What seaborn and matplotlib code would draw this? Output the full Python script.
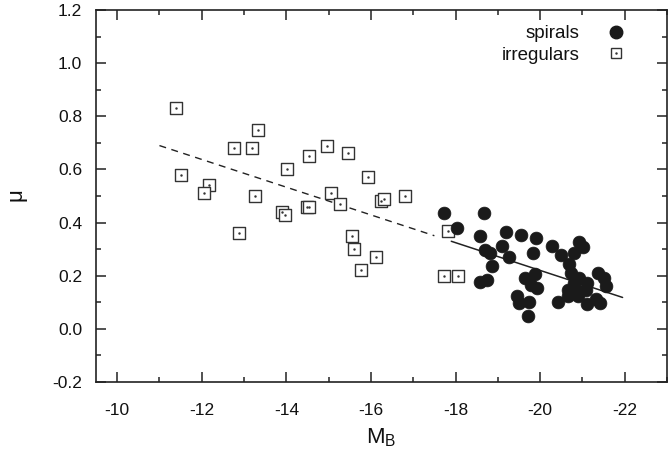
import pandas as pd
import matplotlib
matplotlib.use("Agg")
import matplotlib.pyplot as plt
from matplotlib.lines import Line2D
from matplotlib.legend_handler import HandlerTuple
from matplotlib.ticker import MultipleLocator, FormatStrFormatter
import seaborn as sns
import numpy as np

# --- DATA ---
spiral_mb = [-17.73, -18.68, -18.03, -18.57, -19.20, -19.55, -19.91,
             -18.69, -18.81, -19.11, -19.26, -19.84, -18.86, -19.88,
             -18.57, -18.75, -19.65, -19.79, -19.93, -19.45, -19.50,
             -19.73, -19.71, -20.28, -20.91, -21.02,
             -20.49, -20.79, -20.69, -20.73, -21.36, -21.52, -21.55,
             -20.93, -21.12, -20.81, -20.65, -20.89, -21.08, -20.65,
             -20.89, -20.42, -21.11, -21.32, -21.42]
spiral_mu = [0.435, 0.435, 0.381, 0.350, 0.364, 0.352, 0.341,
             0.297, 0.287, 0.310, 0.272, 0.285, 0.237, 0.207,
             0.178, 0.185, 0.191, 0.166, 0.154, 0.125, 0.097,
             0.102, 0.050, 0.311, 0.326, 0.307,
             0.279, 0.285, 0.245, 0.210, 0.212, 0.191, 0.162,
             0.191, 0.172, 0.172, 0.147, 0.141, 0.147, 0.122,
             0.122, 0.100, 0.095, 0.112, 0.097]

irr_mb = [-11.40, -13.32, -12.77, -13.20, -14.95, -14.53, -15.46, -11.50,
          -14.01, -12.16, -12.06, -13.27, -15.06, -15.94, -15.26, -14.50,
          -14.53, -13.89, -13.98, -16.23, -16.30, -16.80, -12.87, -15.55,
          -15.59, -16.13, -15.77, -17.83, -17.73, -18.06]
irr_mu = [0.83, 0.75, 0.68, 0.68, 0.69, 0.65, 0.66, 0.58,
          0.60, 0.54, 0.51, 0.50, 0.51, 0.57, 0.47, 0.46,
          0.46, 0.44, 0.43, 0.48, 0.49, 0.50, 0.36, 0.35,
          0.30, 0.27, 0.22, 0.37, 0.20, 0.20]

# linear fit mu = a + b * M_B
FIT_A = 1.264
FIT_B = 0.0522
dashed_range = [-11.0, -17.5]
solid_range = [-17.9, -21.95]

df_sp = pd.DataFrame({'MB': spiral_mb, 'mu': spiral_mu})
df_irr = pd.DataFrame({'MB': irr_mb, 'mu': irr_mu})

sns.set_style("ticks")
plt.rcParams['font.family'] = ['Liberation Sans', 'DejaVu Sans']
plt.rcParams['mathtext.fontset'] = 'custom'
plt.rcParams['mathtext.rm'] = 'Liberation Sans'
plt.rcParams['mathtext.it'] = 'Liberation Sans'
plt.rcParams['axes.unicode_minus'] = False
plt.rcParams['text.color'] = '#111111'
plt.rcParams['xtick.color'] = '#111111'
plt.rcParams['ytick.color'] = '#111111'
plt.rcParams['axes.labelcolor'] = '#111111'

fig = plt.figure(figsize=(6.68, 4.54), dpi=100)
ax = fig.add_axes([96 / 668, 1 - 382 / 454, 571 / 668, 372 / 454])

# fit lines
xd = np.array(dashed_range)
ax.plot(xd, FIT_A + FIT_B * xd, color='#222222', lw=1.0, ls=(0, (5, 4)))
xs = np.array(solid_range)
ax.plot(xs, FIT_A + FIT_B * xs, color='#222222', lw=1.1)

# irregulars: open squares with a centre dot
sns.scatterplot(data=df_irr, x='MB', y='mu', ax=ax, marker='s', s=70,
                facecolor='white', edgecolor='#333333', linewidth=1.0, zorder=3)
ax.plot(df_irr['MB'], df_irr['mu'], ls='none', marker='.', ms=1.5,
        color='#333333', zorder=4)

# spirals: filled circles
sns.scatterplot(data=df_sp, x='MB', y='mu', ax=ax, marker='o', s=85,
                color='#1a1a1a', edgecolor='#1a1a1a', linewidth=0.5, zorder=5)

ax.set_xlim(-9.5, -23)
ax.set_ylim(-0.2, 1.2)
ax.xaxis.set_major_locator(MultipleLocator(2))
ax.xaxis.set_minor_locator(MultipleLocator(1))
ax.yaxis.set_major_locator(MultipleLocator(0.2))
ax.yaxis.set_minor_locator(MultipleLocator(0.1))
ax.yaxis.set_major_formatter(FormatStrFormatter('%.1f'))
ax.tick_params(which='both', direction='in', top=True, right=True,
               color='#222222', width=1.1)
ax.tick_params(which='major', length=7, labelsize=12.5)
ax.tick_params(axis='x', which='major', pad=15)
ax.tick_params(axis='y', which='major', pad=10)
ax.tick_params(which='minor', length=3.5)
for sp in ax.spines.values():
    sp.set_linewidth(1.2)
    sp.set_color('#222222')

ax.set_xlabel(r'M$_\mathrm{B}$', fontsize=16, labelpad=6)
ax.set_ylabel(r'$\mu$', fontsize=16, labelpad=16)

h_sp = Line2D([], [], ls='none', marker='o', ms=9, color='#1a1a1a')
h_sq = Line2D([], [], ls='none', marker='s', ms=7, mfc='white', mec='#333333', mew=1.0)
h_dot = Line2D([], [], ls='none', marker='.', ms=1.5, color='#333333')
ax.legend([h_sp, (h_sq, h_dot)], ['spirals', 'irregulars'], loc='upper right',
          handler_map={tuple: HandlerTuple(ndivide=1)},
          markerfirst=False, frameon=False, fontsize=13.5, labelspacing=0.25,
          handlelength=1.5, handletextpad=1.2, borderaxespad=0.3,
          bbox_to_anchor=(0.958, 0.995))

fig.savefig('out.png', dpi=100)
